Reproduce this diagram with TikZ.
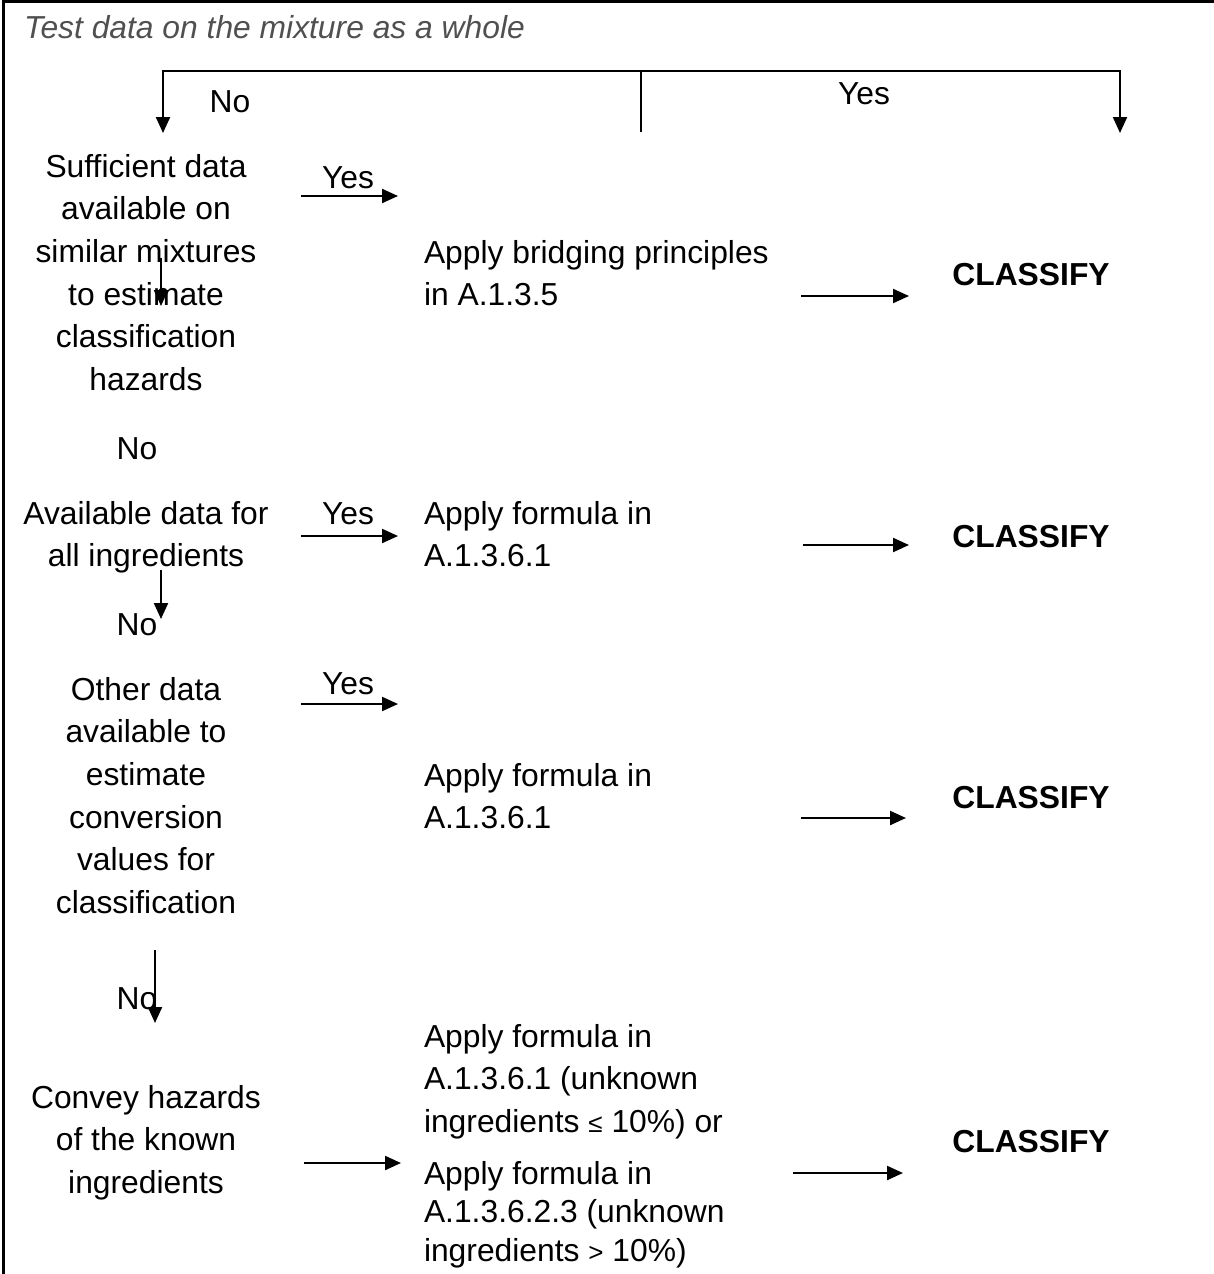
\documentclass[tikz,border=0pt]{standalone}
\usepackage{fontspec}
\setmainfont{Liberation Sans}
\usetikzlibrary{arrows.meta}
\definecolor{ttl}{RGB}{80,80,80}
\newcommand\mystrut{\vrule width 0pt height 24pt depth 7pt}
\begin{document}
\begin{tikzpicture}[x=1pt,y=-1pt,
  every node/.style={inner sep=0pt, outer sep=0pt, font=\fontsize{31.8}{42.7}\selectfont},
  txt/.style={anchor=north, align=center, execute at begin node=\mystrut, execute at end node=\mystrut},
  txtl/.style={anchor=north west, align=left, execute at begin node=\mystrut, execute at end node=\mystrut},
  cls/.style={txt, font=\fontsize{31.8}{42.7}\selectfont\bfseries},
  arr/.style={-{Triangle[length=16pt,width=14pt]}, line width=2.2pt},
  ln/.style={line width=2.2pt}]
\useasboundingbox (0,0) rectangle (1214,1274);
% frame
\draw[line width=3pt] (3,1274) -- (3,1.5) -- (1214,1.5);
% title
\node[txtl, font=\fontsize{31.8}{42.7}\selectfont\itshape, text=ttl] (title) at (24,14) {Test data on the mixture as a whole};
% top split
\coordinate (tm) at (641,71);
\coordinate (tmb) at (641,132);
\coordinate (t0) at (163,71);
\coordinate (t1) at (163,133);
\coordinate (t2) at (1120,71);
\coordinate (t3) at (1120,133);
\draw[ln] (tm) -- (tmb);
\draw[arr] (tm) -- (t0) -- (t1);
\draw[arr] (tm) -- (t2) -- (t3);
\node[txt] (notop) at (230,88) {No};
\node[txt] (yestop) at (864,80) {Yes};
% left column
\node[txt] (q1) at (146,154) {Sufficient data\\available on\\similar mixtures\\to estimate\\classification\\hazards};
\node[txt] (no1) at (137,435) {No};
\node[txt] (q2) at (146,501) {Available data for\\all ingredients};
\node[txt] (no2) at (137,611) {No};
\node[txt] (q3) at (146,677) {Other data\\available to\\estimate\\conversion\\values for\\classification};
\node[txt] (no3) at (137,985) {No};
\node[txt] (q4) at (146,1085) {Convey hazards\\of the known\\ingredients};
% yes labels
\node[txt] (yes1) at (348,164) {Yes};
\node[txt] (yes2) at (348,500) {Yes};
\node[txt] (yes3) at (348,670) {Yes};
% middle column
\node[txtl] (a1) at (424,240) {Apply bridging principles\\in A.1.3.5};
\node[txtl] (a2) at (424,501) {Apply formula in\\A.1.3.6.1};
\node[txtl] (a3) at (424,763) {Apply formula in\\A.1.3.6.1};
\node[txtl] (a4) at (424,1024) {Apply formula in\\A.1.3.6.1 (unknown\\ingredients {\fontsize{26}{30}\selectfont ≤} 10\%) or};
\node[txtl, font=\fontsize{31.8}{38.5}\selectfont] (a5) at (424,1161) {Apply formula in\\A.1.3.6.2.3 (unknown\\ingredients {\fontsize{26}{30}\selectfont >} 10\%)};
% classify
\node[cls] (c1) at (1031,261) {CLASSIFY};
\node[cls] (c2) at (1031,523) {CLASSIFY};
\node[cls] (c3) at (1031,784) {CLASSIFY};
\node[cls] (c4) at (1031,1128) {CLASSIFY};
% yes arrows
\coordinate (y1s) at (301,196); \coordinate (y1e) at (398,196);
\coordinate (y2s) at (301,536); \coordinate (y2e) at (398,536);
\coordinate (y3s) at (301,704); \coordinate (y3e) at (398,704);
\coordinate (y4s) at (304,1163); \coordinate (y4e) at (401,1163);
\draw[arr] (y1s) -- (y1e);
\draw[arr] (y2s) -- (y2e);
\draw[arr] (y3s) -- (y3e);
\draw[arr] (y4s) -- (y4e);
% classify arrows
\coordinate (k1s) at (801,296); \coordinate (k1e) at (909,296);
\coordinate (k2s) at (803,545); \coordinate (k2e) at (909,545);
\coordinate (k3s) at (801,818); \coordinate (k3e) at (906,818);
\coordinate (k4s) at (793,1173); \coordinate (k4e) at (903,1173);
\draw[arr] (k1s) -- (k1e);
\draw[arr] (k2s) -- (k2e);
\draw[arr] (k3s) -- (k3e);
\draw[arr] (k4s) -- (k4e);
% no arrows
\coordinate (n1s) at (161,258); \coordinate (n1e) at (161,306);
\coordinate (n2s) at (161,570); \coordinate (n2e) at (161,619);
\coordinate (n3s) at (155,950); \coordinate (n3e) at (155,1023);
\draw[arr] (n1s) -- (n1e);
\draw[arr] (n2s) -- (n2e);
\draw[arr] (n3s) -- (n3e);
\end{tikzpicture}
\end{document}
